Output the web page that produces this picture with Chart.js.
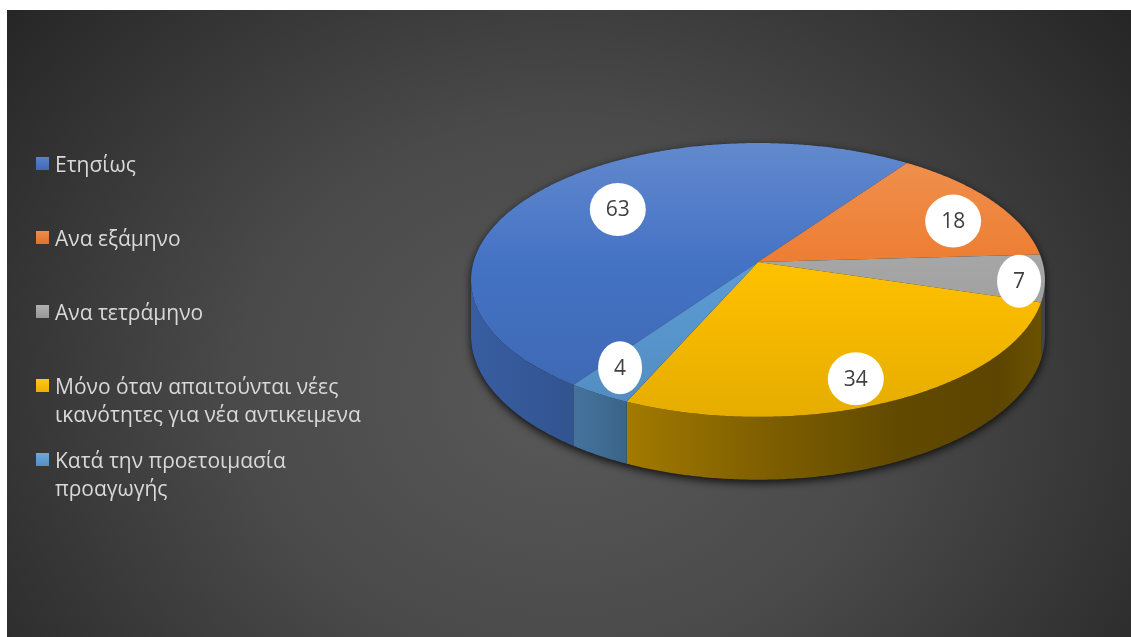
<!DOCTYPE html>
<html>
<head>
<meta charset="utf-8">
<script src="https://cdn.jsdelivr.net/npm/chart.js@4.4.1/dist/chart.umd.min.js"></script>
<style>
  html, body { margin: 0; padding: 0; background: #ffffff; width: 1131px; height: 637px; overflow: hidden; }
  #panel {
    position: absolute; left: 7px; top: 10px; width: 1124px; height: 627px; overflow: hidden;
    background: radial-gradient(ellipse 720px 600px at 558px 380px, #595959 0%, #4a4a4a 45%, #262626 100%);
  }
  #pie { position: absolute; left: -7px; top: -50px; }
  #legend { position: absolute; left: 0; top: 0; width: 420px; height: 637px; font-family: "Open Sans", "Noto Sans", sans-serif; }
  .item { position: absolute; left: 36px; }
  .swatch { position: absolute; left: 0; top: 7px; width: 13px; height: 13px; }
  .text { position: absolute; left: 19px; top: 0; white-space: nowrap; font-size: 21px; line-height: 28px; color: #d9d9d9; }
</style>
</head>
<body>
<div id="panel"><canvas id="pie" width="1131" height="720"></canvas></div>
<div id="legend"></div>
<script>
// Survey answers: how often training is held
const categories = [
  'Ετησίως',
  'Ανα εξάμηνο',
  'Ανα τετράμηνο',
  ['Μόνο όταν απαιτούνται νέες', 'ικανότητες για νέα αντικειμενα'],
  ['Κατά την προετοιμασία', 'προαγωγής']
];
const counts = [63, 18, 7, 34, 4];
const sliceColors = ['#4472C4', '#ED7D31', '#A5A5A5', '#FFC000', '#5B9BD5'];

function rgb(hex) {
  const n = parseInt(hex.slice(1), 16);
  return [(n >> 16) & 255, (n >> 8) & 255, n & 255];
}
function shade(hex, f) {
  const c = rgb(hex).map(v => Math.max(0, Math.min(255, Math.round(v * f))));
  return `rgb(${c[0]},${c[1]},${c[2]})`;
}
function tint(hex, f) {
  const c = rgb(hex).map(v => Math.round(v + (255 - v) * f));
  return `rgb(${c[0]},${c[1]},${c[2]})`;
}

// Draws the pie as a tilted disc with a front wall, using the arc angles laid out by Chart.js
const pie3d = {
  id: 'pie3d',
  beforeDatasetsDraw(chart, args, opts) {
    const ctx = chart.ctx;
    const arcs = chart.getDatasetMeta(0).data;
    const colors = chart.data.datasets[0].backgroundColor;
    const { x: cx, y: cy, outerRadius: R } = arcs[0].getProps(['x', 'y', 'outerRadius'], true);
    const P = opts.perspective, B = R * opts.tilt, D = R * opts.depth;
    const proj = (th, r, drop) => {
      const u = r * Math.cos(th), v = r * Math.sin(th);
      const w = 1 + P * Math.sin(th);
      return [cx + R * u / w, cy + (B * v + drop) / w];
    };
    const step = Math.PI / 360;
    const edge = (a0, a1, drop, path) => {
      const n = Math.max(2, Math.ceil(Math.abs(a1 - a0) / step));
      for (let k = 0; k <= n; k++) {
        path.push(proj(a0 + (a1 - a0) * k / n, 1, drop));
      }
    };
    const ths = Math.asin(-P);

    // soft shadow under the disc
    const sil = [];
    edge(Math.PI - ths, 2 * Math.PI + ths, 0, sil);
    edge(ths, Math.PI - ths, D, sil);
    ctx.save();
    ctx.shadowColor = 'rgba(0,0,0,0.8)';
    ctx.shadowBlur = 9;
    ctx.shadowOffsetY = 3;
    ctx.fillStyle = '#1e1e1e';
    ctx.beginPath();
    sil.forEach((p, i) => i ? ctx.lineTo(p[0], p[1]) : ctx.moveTo(p[0], p[1]));
    ctx.closePath();
    ctx.fill();
    ctx.restore();

    // front wall pieces
    const wallStops = opts.wallShade;
    arcs.forEach((arc, i) => {
      const { startAngle, endAngle } = arc.getProps(['startAngle', 'endAngle'], true);
      for (let k = -1; k <= 2; k++) {
        const lo = Math.max(startAngle, ths + 2 * Math.PI * k);
        const hi = Math.min(endAngle, Math.PI - ths + 2 * Math.PI * k);
        if (hi <= lo) continue;
        const pts = [];
        edge(lo, hi, 0, pts);
        const bot = [];
        edge(lo, hi, D, bot);
        bot.reverse();
        const g = ctx.createLinearGradient(cx - R, 0, cx + R, 0);
        wallStops.forEach(([pos, f]) => g.addColorStop(pos, shade(colors[i], f)));
        ctx.fillStyle = g;
        ctx.beginPath();
        pts.concat(bot).forEach((p, j) => j ? ctx.lineTo(p[0], p[1]) : ctx.moveTo(p[0], p[1]));
        ctx.closePath();
        ctx.fill();
      }
    });

    // top face slices
    const yTop = cy - B / (1 - P), yBot = cy + B / (1 + P);
    arcs.forEach((arc, i) => {
      const { startAngle, endAngle } = arc.getProps(['startAngle', 'endAngle'], true);
      const g = ctx.createLinearGradient(0, yTop, 0, yBot);
      g.addColorStop(0, tint(colors[i], 0.16));
      g.addColorStop(0.45, colors[i]);
      g.addColorStop(1, shade(colors[i], 0.9));
      const pts = [[cx, cy]];
      edge(startAngle, endAngle, 0, pts);
      ctx.fillStyle = g;
      ctx.beginPath();
      pts.forEach((p, j) => j ? ctx.lineTo(p[0], p[1]) : ctx.moveTo(p[0], p[1]));
      ctx.closePath();
      ctx.fill();
    });

    // value bubbles
    ctx.save();
    ctx.font = opts.labelFont;
    ctx.textAlign = 'center';
    ctx.textBaseline = 'middle';
    arcs.forEach((arc, i) => {
      const { startAngle, endAngle } = arc.getProps(['startAngle', 'endAngle'], true);
      const mid = (startAngle + endAngle) / 2 + opts.labelTurn[i] * Math.PI / 180;
      const [lx, ly] = proj(mid, opts.labelRadius[i], 0);
      const txt = String(chart.data.datasets[0].data[i]);
      const rx = ctx.measureText(txt).width / 2 + 16;
      ctx.fillStyle = '#ffffff';
      ctx.beginPath();
      ctx.ellipse(lx, ly, rx, 26.5, 0, 0, Math.PI * 2);
      ctx.fill();
      ctx.fillStyle = '#404040';
      ctx.fillText(txt, lx, ly + 1);
    });
    ctx.restore();
    return false;
  }
};

const chart = new Chart(document.getElementById('pie'), {
  type: 'pie',
  data: {
    labels: categories,
    datasets: [{ data: counts, backgroundColor: sliceColors, borderWidth: 0 }]
  },
  options: {
    responsive: false,
    animation: false,
    events: [],
    rotation: 215.4,
    layout: { padding: { left: 473.5, right: 88.5, top: 17.5, bottom: 133.5 } },
    plugins: {
      legend: { display: false },
      tooltip: { enabled: false },
      pie3d: {
        perspective: -0.131,
        tilt: 0.473,
        depth: 0.192,
        wallShade: [[0, 0.82], [0.2, 0.72], [0.28, 0.63], [0.5, 0.50], [0.75, 0.38], [0.92, 0.36], [1, 0.42]],
        labelRadius: [0.68, 0.79, 0.91, 0.82, 0.82],
        labelTurn: [3, 5, 2, 3, 2],
        labelFont: '21px "Open Sans", "Noto Sans", sans-serif'
      }
    }
  },
  plugins: [pie3d]
});

// legend on the left, one slot per category
const legend = document.getElementById('legend');
categories.forEach((label, i) => {
  const item = document.createElement('div');
  item.className = 'item';
  item.style.top = (150 + 74 * i) + 'px';
  const sw = document.createElement('div');
  sw.className = 'swatch';
  sw.style.background = `linear-gradient(${tint(sliceColors[i], 0.12)}, ${shade(sliceColors[i], 0.92)})`;
  const tx = document.createElement('div');
  tx.className = 'text';
  (Array.isArray(label) ? label : [label]).forEach((line, j) => {
    if (j) tx.appendChild(document.createElement('br'));
    tx.appendChild(document.createTextNode(line));
  });
  item.appendChild(sw);
  item.appendChild(tx);
  legend.appendChild(item);
});
</script>
</body>
</html>
